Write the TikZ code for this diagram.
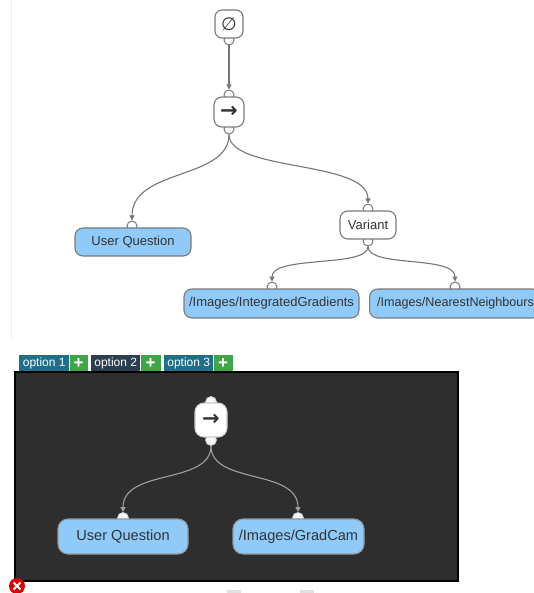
\documentclass[tikz,border=0pt]{standalone}
\usepackage{fontspec}
\setmainfont{Liberation Sans}
\newfontfamily\symfont{DejaVu Sans}
\usetikzlibrary{arrows.meta}
\definecolor{nodeblue}{HTML}{90CAF9}
\definecolor{edgegray}{HTML}{767676}
\definecolor{bordergray}{HTML}{7A7A7A}
\definecolor{txtgray}{HTML}{333333}
\definecolor{tabteal}{HTML}{1F6E8A}
\definecolor{tabdark}{HTML}{2C3E50}
\definecolor{tabgreen}{HTML}{3FA648}
\definecolor{panelbg}{HTML}{2E2E2E}
\tikzset{
  box/.style={draw=bordergray, line width=1.1pt, rounded corners=8pt, fill=nodeblue,
    text=txtgray, inner sep=0pt, font=\fontsize{13}{15}\selectfont},
  whitebox/.style={box, fill=white},
  pbox/.style={box, fill=nodeblue, draw=bordergray!80, font=\fontsize{14.6}{16}\selectfont},
  port/.style={circle, draw=bordergray, line width=1pt, fill=white, minimum size=10pt, inner sep=0pt},
  pport/.style={circle, draw=gray!40, line width=0.8pt, fill=white!93!gray, minimum size=11pt, inner sep=0pt},
  edge/.style={draw=edgegray, line width=1.1pt, -{Triangle[width=5pt,length=5pt]}},
  pedge/.style={draw=gray!75, line width=1.1pt, -{Triangle[width=5pt,length=5pt]}},
  tab/.style={inner sep=0pt, text=white, font=\fontsize{12}{14}\selectfont, minimum height=17pt},
  plus/.style={inner sep=0pt, fill=tabgreen, text=white, minimum height=17pt, font=\bfseries\fontsize{17}{17}\selectfont},
  arrowsym/.style={font=\symfont\bfseries\fontsize{21}{21}\selectfont},
}
\begin{document}
\begin{tikzpicture}[x=1pt,y=-1pt]
\useasboundingbox[fill=white] (0,0) rectangle (534,593);
\draw[color=black!6, line width=1.5pt] (11.5,0) -- (11.5,340);

% ports (drawn first, under the boxes)
\node[port] (p0b) at (229,40) {};
\node[port] (p1t) at (229,95) {};
\node[port] (p1b) at (229,129) {};
\node[port] (puqt) at (132,226) {};
\node[port] (pvt) at (368,209) {};
\node[port] (pvb) at (368,241) {};
\node[port] (pigt) at (272,287) {};
\node[port] (pnnt) at (455,287) {};

% top graph nodes
\node[whitebox, minimum width=28pt, minimum height=28pt, rounded corners=7pt] (n0) at (229,24) {\symfont\fontsize{18}{18}\selectfont ∅};
\node[whitebox, minimum width=30pt, minimum height=30pt, rounded corners=8pt, arrowsym] (n1) at (229,112) {→};
\node[box, minimum width=116pt, minimum height=28pt] (uq) at (133,242) {User Question};
\node[whitebox, minimum width=56pt, minimum height=28pt] (var) at (368,225) {Variant};
\node[box, minimum width=175pt, minimum height=29pt] (ig) at (271.5,303.5) {/Images/IntegratedGradients};
\begin{scope}
\clip (360,280) rectangle (534,330);
\node[box, minimum width=171pt, minimum height=29pt, anchor=west, font=\fontsize{12.6}{15}\selectfont] (nn) at (369,303.5) {\hspace{1pt}/Images/NearestNeighbours\hspace{8pt}};
\end{scope}

% top edges
\draw[edge] (p0b.south) -- (p1t.north);
\draw[edge] (p1b.south) .. controls (229,180) and (132,168) .. (puqt.north);
\draw[edge] (p1b.south) .. controls (229,172) and (368,160) .. (pvt.north);
\draw[edge] (pvb.south) .. controls (368,268) and (272,255) .. (pigt.north);
\draw[edge] (pvb.south) .. controls (368,268) and (455,255) .. (pnnt.north);

% tabs
\node[tab, fill=tabteal, minimum width=50pt, anchor=north west] (t1) at (19,355) {option 1};
\node[plus, minimum width=18pt, anchor=north west] (t1p) at (t1.north east) {+};
\node[tab, fill=tabdark, minimum width=49pt, anchor=north west] (t2) at (91,355) {option 2};
\node[plus, minimum width=20pt, anchor=north west] (t2p) at (t2.north east) {+};
\node[tab, fill=tabteal, minimum width=49pt, anchor=north west] (t3) at (164,355) {option 3};
\node[plus, minimum width=19pt, anchor=north west] (t3p) at (t3.north east) {+};

% panel
\draw[fill=panelbg, draw=black, line width=1.5pt] (15,372) rectangle (458,581);

\node[pport] (q1t) at (211,402) {};
\node[pport] (q1b) at (211,440) {};
\node[pport] (quqt) at (123,518) {};
\node[pport] (qgct) at (298,518) {};

\node[whitebox, draw=gray!40, minimum width=32pt, minimum height=34pt, rounded corners=9pt, arrowsym] (m1) at (211,420) {→};
\node[pbox, minimum width=130pt, minimum height=35pt, rounded corners=10pt] (muq) at (123,536.5) {User Question};
\node[pbox, minimum width=131pt, minimum height=35pt, rounded corners=10pt] (mgc) at (298.5,536.5) {/Images/GradCam};

\draw[pedge] (q1b.south) .. controls (211,485) and (123,468) .. (quqt.north);
\draw[pedge] (q1b.south) .. controls (211,485) and (298,468) .. (qgct.north);

% bottom bits
\fill[red!85!black] (17,586) circle (8);
\draw[white, line width=1.8pt] (13.5,582.5) -- (20.5,589.5) (20.5,582.5) -- (13.5,589.5);
\fill[black!12] (227,590) rectangle (241,593);
\fill[black!12] (300,590) rectangle (314,593);
\end{tikzpicture}
\end{document}
